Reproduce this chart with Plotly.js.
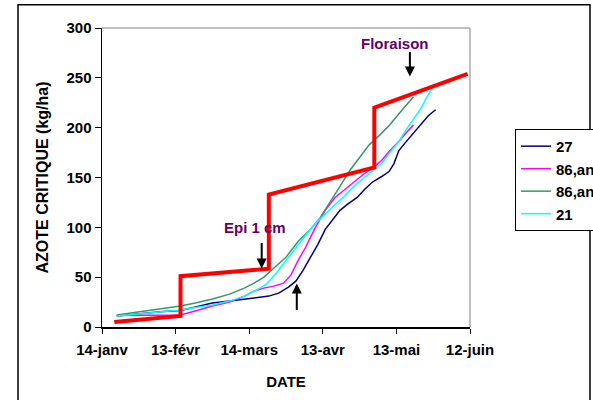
<!DOCTYPE html>
<html><head><meta charset="utf-8">
<script src="https://cdn.plot.ly/plotly-3.0.1.min.js"></script>
<style>body{margin:0;background:#fff}#c{width:593px;height:400px}</style>
</head><body><div id="c"></div>
<script>
// Reference date: 14 January (leap year, ticks every 30 days)
const START = '2000-01-14';
const tickDays = [0, 30, 60, 90, 120, 150];
const tickLabels = ['14-janv', '13-févr', '14-mars', '13-avr', '13-mai', '12-juin'];

// Critical nitrogen step curve (days after 14-janv, kg/ha)
const redDays = [5, 32, 32, 68, 68, 111, 111, 149];
const redVals = [5, 11, 51, 58.5, 133, 160, 220, 254];

// Series "27"
const s27Days = [6, 12, 18, 25, 32, 38, 45, 52, 58, 64, 68, 72, 76, 79, 82, 85, 88, 91, 94, 97, 100, 104, 107, 110, 114, 117, 119, 121, 124, 127, 130, 133, 136];
const s27Vals = [11, 12.5, 14, 15.5, 16.5, 20, 24, 26, 28, 30, 31, 34, 40, 46, 57, 70, 83, 98, 108, 117, 123, 130, 138, 145, 151, 156, 164, 177, 186, 195, 203, 212, 218];

// Series "86,an1"
const s86aDays = [6, 12, 18, 25, 32, 38, 45, 52, 58, 62, 66, 70, 74, 77, 80, 83, 87, 91, 95, 99, 103, 107, 111, 114, 117, 121, 124, 127];
const s86aVals = [11.5, 11.5, 11.5, 11.5, 12, 16, 21, 25, 31, 36, 39, 41, 44, 52, 67, 80, 100, 117, 130, 138, 146, 154, 161, 167, 176, 186, 195, 203];

// Series "86,an2"
const s86bDays = [6, 12, 18, 25, 32, 38, 45, 52, 58, 62, 66, 70, 75, 80, 85, 89, 93, 97, 101, 105, 109, 113, 117, 121, 124, 127];
const s86bVals = [12, 14, 16.5, 19, 21, 24, 28, 33, 39, 44, 50, 59, 70, 86, 98, 110, 125, 141, 157, 170, 183, 192, 202, 214, 223, 231];

// Series "21"
const s21Days = [6, 12, 18, 25, 32, 38, 45, 52, 58, 63, 67, 71, 75, 79, 83, 87, 91, 95, 99, 103, 107, 111, 114, 117, 121, 124, 127, 130, 132, 135];
const s21Vals = [11, 12.5, 14, 15.5, 17, 19.5, 22, 26, 31, 37, 43, 54, 67, 80, 92, 104, 113, 123, 132, 142, 150, 158, 164, 174, 186, 198, 208, 219, 229, 241];

const seriesNames = ['27', '86,an1', '86,an2', '21'];

function toDate(d) {
  const t = new Date(Date.UTC(2000, 0, 14) + d * 86400000);
  return t.toISOString().slice(0, 19).replace('T', ' ');
}
const D = a => a.map(toDate);

const line = (days, vals, name, color) => ({
  x: D(days), y: vals, name: name, type: 'scatter', mode: 'lines',
  line: {color: color, width: 1.5}
});

const traces = [
  line(s27Days, s27Vals, seriesNames[0], '#000080'),
  line(s86aDays, s86aVals, seriesNames[1], '#FF00FF'),
  line(s86bDays, s86bVals, seriesNames[2], '#339966'),
  line(s21Days, s21Vals, seriesNames[3], '#00FFFF'),
  {x: D(redDays), y: redVals, type: 'scatter', mode: 'lines', showlegend: false,
   line: {color: '#FF0000', width: 4}}
];

const F = 'Liberation Sans, Arial, sans-serif';
const PL = 102, PR = 470, PT = 28.3, PB = 326.7;
const px = v => (v - PL) / (PR - PL);
const py = v => (PB - v) / (PB - PT);

const layout = {
  width: 593, height: 400,
  margin: {l: PL, r: 593 - PR, t: PT, b: 400 - PB, pad: 0, autoexpand: false},
  paper_bgcolor: '#fff', plot_bgcolor: '#fff',
  font: {family: F, size: 15, color: '#000'},
  showlegend: true,
  legend: {x: px(515), y: py(129), xanchor: 'left', yanchor: 'top',
    bordercolor: '#000', borderwidth: 1, bgcolor: '#fff',
    font: {family: F, size: 15, color: '#000', weight: 'bold'},
    tracegroupgap: 0, itemwidth: 30},
  xaxis: {type: 'date', range: [toDate(0), toDate(150)], automargin: false,
    tickvals: D(tickDays), ticktext: tickLabels, tickmode: 'array',
    ticks: 'outside', ticklen: 5, tickcolor: '#000', tickwidth: 1,
    ticklabelstandoff: 3,
    showline: true, linecolor: '#000', linewidth: 1.5, showgrid: false, zeroline: false,
    tickfont: {family: F, size: 15, weight: 'bold'},
    title: {text: 'DATE', font: {family: F, size: 15, weight: 'bold'}, standoff: 20},
    fixedrange: true},
  yaxis: {range: [0, 300], dtick: 50, tick0: 0, automargin: false,
    ticks: 'outside', ticklen: 6, tickcolor: '#000', tickwidth: 1,
    showline: true, linecolor: '#000', linewidth: 1.5, showgrid: false, zeroline: false,
    tickfont: {family: F, size: 15, weight: 'bold'},
    title: {text: 'AZOTE CRITIQUE (kg/ha)', font: {family: F, size: 16, weight: 'bold'}, standoff: 14},
    fixedrange: true},
  shapes: [
    {type: 'line', xref: 'paper', yref: 'paper', x0: 0, x1: 1, y0: 1, y1: 1, line: {color: '#808080', width: 1}},
    {type: 'line', xref: 'paper', yref: 'paper', x0: 1, x1: 1, y0: 0, y1: 1, line: {color: '#808080', width: 1}},
    {type: 'rect', xref: 'paper', yref: 'paper', x0: px(18), x1: px(590), y0: py(405), y1: py(5), line: {color: '#000', width: 1.5}, layer: 'below'}
  ],
  annotations: [
    {x: toDate(62.4), y: 99.5, text: 'Epi 1 cm', showarrow: false, font: {family: F, size: 15, color: '#660066', weight: 'bold'}},
    {x: toDate(119.6), y: 284, text: 'Floraison', showarrow: false, font: {family: F, size: 15, color: '#660066', weight: 'bold'}},
    {x: toDate(65.1), y: 58.7, text: '', showarrow: true, ax: 0, ay: -27, arrowhead: 2, arrowsize: 1, arrowwidth: 2, arrowcolor: '#000'},
    {x: toDate(125.5), y: 251.3, text: '', showarrow: true, ax: 0, ay: -26, arrowhead: 2, arrowsize: 1, arrowwidth: 2, arrowcolor: '#000'},
    {x: toDate(79.4), y: 43.6, text: '', showarrow: true, ax: 0, ay: 28, arrowhead: 2, arrowsize: 1, arrowwidth: 2, arrowcolor: '#000'}
  ]
};

Plotly.newPlot('c', traces, layout, {displayModeBar: false, staticPlot: true});
</script></body></html>
